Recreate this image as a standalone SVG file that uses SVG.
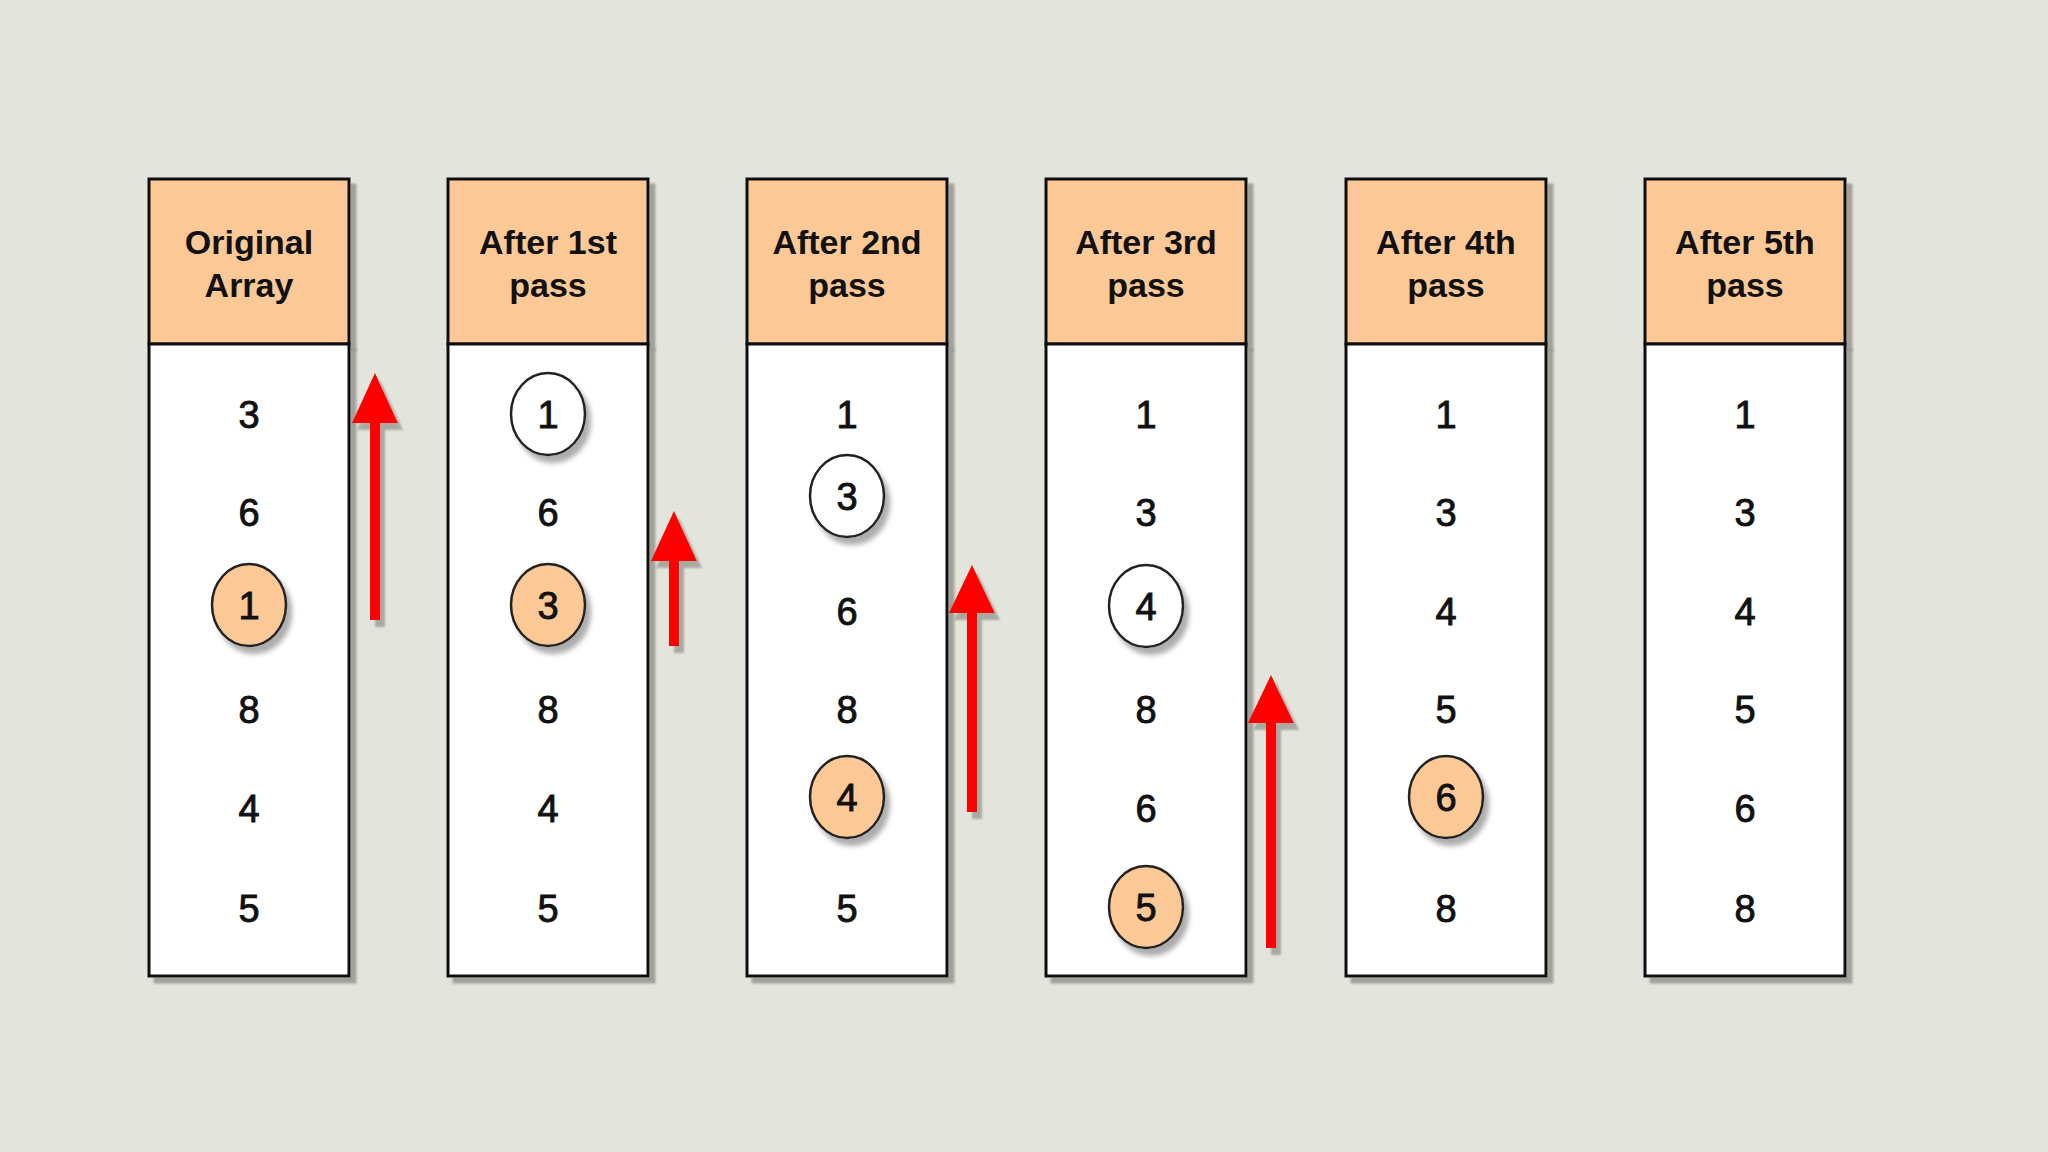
<svg xmlns="http://www.w3.org/2000/svg" width="2048" height="1152" viewBox="0 0 2048 1152">
<defs>
<filter id="sh" x="-10%" y="-10%" width="130%" height="130%">
<feDropShadow dx="6" dy="6" stdDeviation="1.2" flood-color="#9a9a92" flood-opacity="0.9"/>
</filter>
<filter id="csh" x="-30%" y="-30%" width="170%" height="170%">
<feDropShadow dx="5" dy="7" stdDeviation="2.5" flood-color="#999" flood-opacity="0.8"/>
</filter>
<filter id="ash" x="-50%" y="-10%" width="200%" height="130%">
<feDropShadow dx="5" dy="7" stdDeviation="1" flood-color="#a3a39b" flood-opacity="0.9"/>
</filter>
<style>
.hd{fill:#fcc896;stroke:#111;stroke-width:3}
.bd{fill:#ffffff;stroke:#111;stroke-width:3}
.ht{font-family:"Liberation Sans",Arial,sans-serif;font-weight:bold;font-size:34px;fill:#111;text-anchor:middle}
.nt{font-family:"Liberation Sans",Arial,sans-serif;font-size:38px;fill:#111;stroke:#111;stroke-width:0.9;text-anchor:middle}
.co{fill:#fcc896;stroke:#222;stroke-width:2.5}
.cw{fill:#ffffff;stroke:#222;stroke-width:2.5}
.ar{fill:#ff0000}
</style>
</defs>
<rect width="2048" height="1152" fill="#e3e5dc"/>

<g id="col0">
<rect class="hd" x="149" y="179" width="200" height="165" filter="url(#sh)"/>
<rect class="bd" x="149" y="344" width="200" height="632" filter="url(#sh)"/>
<text class="ht" x="249" y="254">Original</text>
<text class="ht" x="249" y="297">Array</text>
<ellipse class="co" cx="249" cy="605" rx="37" ry="41" filter="url(#csh)"/>
<text class="nt" x="249" y="428">3</text>
<text class="nt" x="249" y="526">6</text>
<text class="nt" x="249" y="619">1</text>
<text class="nt" x="249" y="723">8</text>
<text class="nt" x="249" y="822">4</text>
<text class="nt" x="249" y="922">5</text>
</g>

<g id="col1">
<rect class="hd" x="448" y="179" width="200" height="165" filter="url(#sh)"/>
<rect class="bd" x="448" y="344" width="200" height="632" filter="url(#sh)"/>
<text class="ht" x="548" y="254">After 1st</text>
<text class="ht" x="548" y="297">pass</text>
<ellipse class="cw" cx="548" cy="414" rx="37" ry="41" filter="url(#csh)"/>
<ellipse class="co" cx="548" cy="605" rx="37" ry="41" filter="url(#csh)"/>
<text class="nt" x="548" y="428">1</text>
<text class="nt" x="548" y="526">6</text>
<text class="nt" x="548" y="619">3</text>
<text class="nt" x="548" y="723">8</text>
<text class="nt" x="548" y="822">4</text>
<text class="nt" x="548" y="922">5</text>
</g>

<g id="col2">
<rect class="hd" x="747" y="179" width="200" height="165" filter="url(#sh)"/>
<rect class="bd" x="747" y="344" width="200" height="632" filter="url(#sh)"/>
<text class="ht" x="847" y="254">After 2nd</text>
<text class="ht" x="847" y="297">pass</text>
<ellipse class="cw" cx="847" cy="496" rx="37" ry="41" filter="url(#csh)"/>
<ellipse class="co" cx="847" cy="797" rx="37" ry="41" filter="url(#csh)"/>
<text class="nt" x="847" y="428">1</text>
<text class="nt" x="847" y="510">3</text>
<text class="nt" x="847" y="625">6</text>
<text class="nt" x="847" y="723">8</text>
<text class="nt" x="847" y="811">4</text>
<text class="nt" x="847" y="922">5</text>
</g>

<g id="col3">
<rect class="hd" x="1046" y="179" width="200" height="165" filter="url(#sh)"/>
<rect class="bd" x="1046" y="344" width="200" height="632" filter="url(#sh)"/>
<text class="ht" x="1146" y="254">After 3rd</text>
<text class="ht" x="1146" y="297">pass</text>
<ellipse class="cw" cx="1146" cy="606" rx="37" ry="41" filter="url(#csh)"/>
<ellipse class="co" cx="1146" cy="907" rx="37" ry="41" filter="url(#csh)"/>
<text class="nt" x="1146" y="428">1</text>
<text class="nt" x="1146" y="526">3</text>
<text class="nt" x="1146" y="620">4</text>
<text class="nt" x="1146" y="723">8</text>
<text class="nt" x="1146" y="822">6</text>
<text class="nt" x="1146" y="921">5</text>
</g>

<g id="col4">
<rect class="hd" x="1346" y="179" width="200" height="165" filter="url(#sh)"/>
<rect class="bd" x="1346" y="344" width="200" height="632" filter="url(#sh)"/>
<text class="ht" x="1446" y="254">After 4th</text>
<text class="ht" x="1446" y="297">pass</text>
<ellipse class="co" cx="1446" cy="797" rx="37" ry="41" filter="url(#csh)"/>
<text class="nt" x="1446" y="428">1</text>
<text class="nt" x="1446" y="526">3</text>
<text class="nt" x="1446" y="625">4</text>
<text class="nt" x="1446" y="723">5</text>
<text class="nt" x="1446" y="811">6</text>
<text class="nt" x="1446" y="922">8</text>
</g>

<g id="col5">
<rect class="hd" x="1645" y="179" width="200" height="165" filter="url(#sh)"/>
<rect class="bd" x="1645" y="344" width="200" height="632" filter="url(#sh)"/>
<text class="ht" x="1745" y="254">After 5th</text>
<text class="ht" x="1745" y="297">pass</text>
<text class="nt" x="1745" y="428">1</text>
<text class="nt" x="1745" y="526">3</text>
<text class="nt" x="1745" y="625">4</text>
<text class="nt" x="1745" y="723">5</text>
<text class="nt" x="1745" y="822">6</text>
<text class="nt" x="1745" y="922">8</text>
</g>

<g id="connectors" filter="url(#ash)">
<path class="ar" d="M375 373 L398 423 L380 423 L380 620 L370 620 L370 423 L352 423 Z"/>
<path class="ar" d="M674 511 L697 561 L679 561 L679 646 L669 646 L669 561 L651 561 Z"/>
<path class="ar" d="M972 565 L995 613 L977 613 L977 812 L967 812 L967 613 L949 613 Z"/>
<path class="ar" d="M1271 675 L1294 723 L1276 723 L1276 948 L1266 948 L1266 723 L1248 723 Z"/>
</g>
</svg>
